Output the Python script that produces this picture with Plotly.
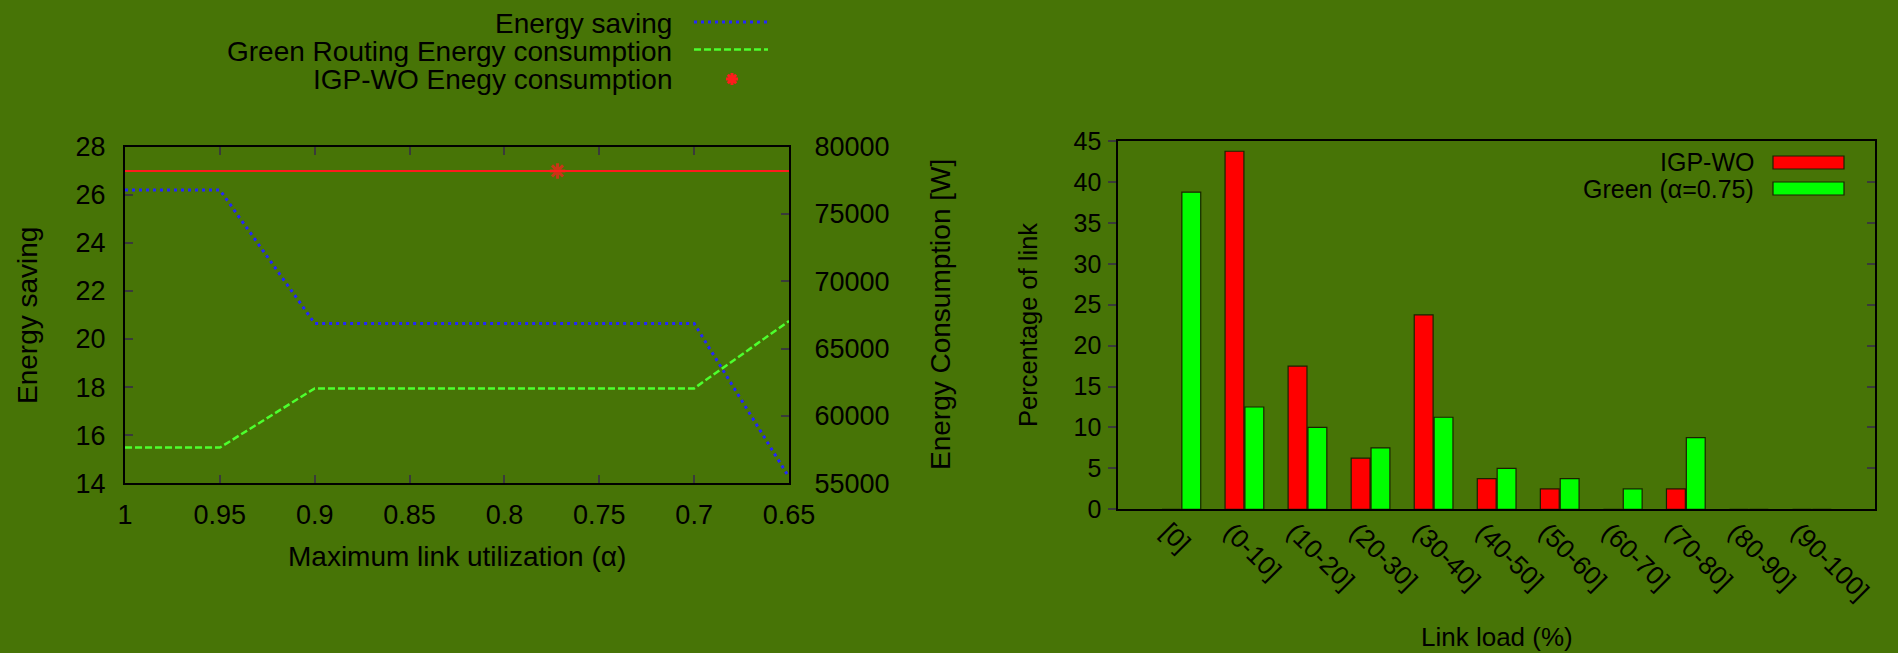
import plotly.graph_objects as go

W, H = 1898, 653

# ---- Left panel: energy saving vs. maximum link utilization ----
alpha = [1.0, 0.95, 0.9, 0.85, 0.8, 0.75, 0.7, 0.65]
alpha_labels = ["1", "0.95", "0.9", "0.85", "0.8", "0.75", "0.7", "0.65"]
energy_saving = [26.2, 26.2, 20.65, 20.65, 20.65, 20.65, 20.65, 14.25]
green_energy = [57650, 57650, 62050, 62050, 62050, 62050, 62050, 67050]
igp_wo_energy = 78200
igp_wo_marker_alpha = 0.772

# ---- Right panel: link load distribution ----
load_bins = ["[0]", "(0-10]", "(10-20]", "(20-30]", "(30-40]", "(40-50]",
             "(50-60]", "(60-70]", "(70-80]", "(80-90]", "(90-100]"]
igp_wo_pct = [0, 43.75, 17.5, 6.25, 23.75, 3.75, 2.5, 0, 2.5, 0, 0]
green_pct = [38.75, 12.5, 10.0, 7.5, 11.25, 5.0, 3.75, 2.5, 8.75, 0, 0]

BG = "#477406"
FONT = "Liberation Sans, Arial, Helvetica, sans-serif"
BLUE = "#2426ff"
LIME = "#4dff2e"
RED = "#ff1c1c"
TICK = "#3a3a3a"
BLUE_DASH = "3px,4px"
LIME_DASH = "7px,3px"


def px(x):
    return x / W


def py(y):
    return 1 - y / H


fig = go.Figure()

fig.add_trace(go.Scatter(
    x=alpha, y=energy_saving, xaxis="x", yaxis="y", mode="lines",
    name="Energy saving", line=dict(color=BLUE, width=3, dash=BLUE_DASH),
    showlegend=False))
fig.add_trace(go.Scatter(
    x=alpha, y=green_energy, xaxis="x", yaxis="y2", mode="lines",
    name="Green Routing Energy consumption",
    line=dict(color=LIME, width=2.5, dash=LIME_DASH), showlegend=False))
fig.add_trace(go.Scatter(
    x=[alpha[0], igp_wo_marker_alpha, alpha[-1]],
    y=[igp_wo_energy] * 3, xaxis="x", yaxis="y2", mode="lines+markers",
    name="IGP-WO Enegy consumption",
    line=dict(color=RED, width=2),
    marker=dict(symbol="asterisk-open", size=[0, 13, 0],
                line=dict(color=RED, width=3)),
    showlegend=False))

fig.add_trace(go.Bar(
    x=load_bins, y=igp_wo_pct, xaxis="x2", yaxis="y3", name="IGP-WO",
    marker=dict(color="#ff0000", line=dict(color="#1a2200", width=1.2)),
    showlegend=False))
fig.add_trace(go.Bar(
    x=load_bins, y=green_pct, xaxis="x2", yaxis="y3", name="Green (α=0.75)",
    marker=dict(color="#00ff00", line=dict(color="#1a2200", width=1.2)),
    showlegend=False))
# carrier for the mirrored right-hand tick axis of the histogram
fig.add_trace(go.Scatter(
    x=load_bins[:1], y=[0], xaxis="x2", yaxis="y4", mode="markers",
    marker=dict(opacity=0), hoverinfo="skip", showlegend=False))

left_dom_x = [px(125), px(789)]
left_dom_y = [py(483.3), py(146.7)]
right_dom_x = [px(1118.3), px(1875)]
right_dom_y = [py(509.3), py(141)]

axis_common = dict(showgrid=False, zeroline=False, showline=True,
                   linecolor="black", linewidth=2, tickcolor=TICK,
                   tickwidth=2, ticklen=8, automargin=False)

fig.update_layout(
    width=W, height=H,
    margin=dict(l=0, r=0, t=0, b=0, pad=0, autoexpand=False),
    paper_bgcolor=BG, plot_bgcolor="rgba(0,0,0,0)",
    font=dict(family=FONT, color="black"),
    barmode="group", bargap=0.37, bargroupgap=0.05,
    xaxis=dict(domain=left_dom_x, anchor="y", range=[1.0, 0.65],
               tickmode="array", tickvals=alpha, ticktext=alpha_labels,
               ticks="inside", mirror="ticks", ticklabelstandoff=6,
               tickfont=dict(size=27), **axis_common),
    yaxis=dict(domain=left_dom_y, anchor="x", range=[14, 28], dtick=2,
               ticks="inside", mirror=False, ticklabelstandoff=12,
               tickfont=dict(size=27), **axis_common),
    yaxis2=dict(overlaying="y", anchor="x", side="right",
                range=[55000, 80000], dtick=5000, tickformat="d",
                ticks="inside", ticklabelstandoff=18,
                tickfont=dict(size=27), **axis_common),
    xaxis2=dict(domain=right_dom_x, anchor="y3", type="category",
                range=[-1, 11], ticks="", mirror=True, tickangle=45,
                ticklabelshift=-13, ticklabelstandoff=-5,
                tickfont=dict(size=26), **axis_common),
    yaxis3=dict(domain=right_dom_y, anchor="x2", range=[0, 45], dtick=5,
                ticks="outside", mirror=False, ticklabelstandoff=2,
                tickfont=dict(size=25), **axis_common),
    yaxis4=dict(overlaying="y3", anchor="x2", side="right", range=[0, 45],
                dtick=5, ticks="inside", showticklabels=False,
                **axis_common),
)

annotations = []


def label(text, x, y, size, angle=0, xanchor="center"):
    annotations.append(dict(
        text=text, x=px(x), y=py(y), xref="paper", yref="paper",
        showarrow=False, textangle=angle, xanchor=xanchor, yanchor="middle",
        font=dict(family=FONT, size=size, color="black")))


# axis titles
label("Energy saving", 27, 316, 28, angle=-90)
label("Maximum link utilization (α)", 457, 556, 28)
label("Energy Consumption [W]", 940, 315, 28, angle=-90)
label("Percentage of link", 1028, 325, 25.5, angle=-90)
label("Link load (%)", 1497, 637, 26)

# legend of the left panel (text right-aligned, key on the right)
label("Energy saving", 674, 24, 28, xanchor="right")
label("Green Routing Energy consumption", 674, 52, 28, xanchor="right")
label("IGP-WO Enegy consumption", 674, 80, 28, xanchor="right")

# legend of the histogram
label("IGP-WO", 1756, 162, 25, xanchor="right")
label("Green (α=0.75)", 1756, 189, 25, xanchor="right")

shapes = [
    dict(type="line", xref="paper", yref="paper",
         x0=px(694), x1=px(768), y0=py(22), y1=py(22),
         line=dict(color=BLUE, width=3, dash=BLUE_DASH)),
    dict(type="line", xref="paper", yref="paper",
         x0=px(694), x1=px(768), y0=py(49.5), y1=py(49.5),
         line=dict(color=LIME, width=2.5, dash=LIME_DASH)),
    dict(type="rect", xref="paper", yref="paper",
         x0=px(1773), x1=px(1844), y0=py(169), y1=py(156),
         fillcolor="#ff0000", line=dict(color="#1a2200", width=1.2)),
    dict(type="rect", xref="paper", yref="paper",
         x0=px(1773), x1=px(1844), y0=py(195), y1=py(182),
         fillcolor="#00ff00", line=dict(color="#1a2200", width=1.2)),
]

# asterisk key for the IGP-WO entry
cx, cy, r = 732, 79, 6
star = (f"M{px(cx - r)},{py(cy)} L{px(cx + r)},{py(cy)} "
        f"M{px(cx)},{py(cy - r)} L{px(cx)},{py(cy + r)} "
        f"M{px(cx - r * 0.7)},{py(cy - r * 0.7)} L{px(cx + r * 0.7)},{py(cy + r * 0.7)} "
        f"M{px(cx - r * 0.7)},{py(cy + r * 0.7)} L{px(cx + r * 0.7)},{py(cy - r * 0.7)}")
shapes.append(dict(type="path", xref="paper", yref="paper", path=star,
                   line=dict(color=RED, width=3)))

fig.update_layout(annotations=annotations, shapes=shapes)

fig.write_html("out.html")
